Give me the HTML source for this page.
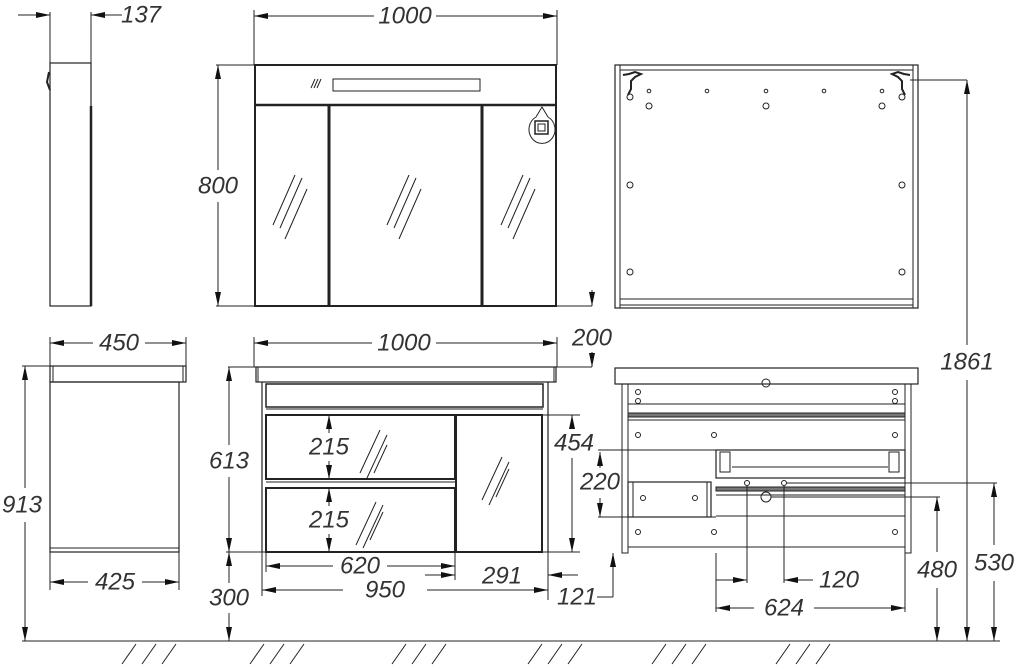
<!DOCTYPE html>
<html><head><meta charset="utf-8"><style>
html,body{margin:0;padding:0;background:#fff;}
svg{display:block}
text{font-family:"Liberation Sans",sans-serif;font-style:italic;font-size:24px;fill:#333;text-anchor:middle;dominant-baseline:central}
</style></head><body>
<svg width="1024" height="667" viewBox="0 0 1024 667" xmlns="http://www.w3.org/2000/svg">
<defs>
<marker id="a" viewBox="0 0 14 6" refX="14" refY="3" markerWidth="14" markerHeight="6" orient="auto-start-reverse" markerUnits="userSpaceOnUse"><path d="M0,0L14,3L0,6z" fill="#111"/></marker>
</defs>
<g stroke="#222" stroke-width="1" fill="none">
<line x1="22" y1="641" x2="1000" y2="641"/>
<g stroke-width="1">
<path d="M122,664L136,644M142,664L156,644M162,664L176,644M250,664L264,644M270,664L284,644M290,664L304,644M392,664L406,644M412,664L426,644M432,664L446,644M528,664L542,644M548,664L562,644M568,664L582,644M652,664L666,644M672,664L686,644M692,664L706,644M776,664L790,644M796,664L810,644M816,664L830,644"/>
</g>

<rect x="50" y="63" width="41" height="243" stroke-width="1.2"/>
<line x1="91" y1="106" x2="91" y2="306" stroke-width="2.5"/>
<path d="M49,72l-2,10 3,8" stroke-width="2"/>
<line x1="50" y1="12" x2="50" y2="63"/><line x1="91" y1="12" x2="91" y2="63"/>
<line x1="18" y1="15" x2="50" y2="15" marker-end="url(#a)"/>
<line x1="122" y1="15" x2="91" y2="15" marker-end="url(#a)"/>

<rect x="255" y="65" width="301" height="241" stroke-width="2"/>
<line x1="255" y1="105" x2="556" y2="105" stroke-width="2.5"/>
<rect x="333" y="79" width="147" height="12"/>
<path d="M311,88l4,-9M314,88l4,-9M317,88l4,-9"/>
<line x1="329" y1="106" x2="329" y2="306" stroke-width="3"/>
<line x1="482" y1="106" x2="482" y2="306" stroke-width="3"/>
<path d="M273,225l22,-50M280,228l22,-50M285,239l22,-50"/>
<path d="M387,225l22,-50M394,228l22,-50M399,239l22,-50"/>
<path d="M501,225l22,-50M508,228l22,-50M513,239l22,-50"/>
<path d="M542,107l-6,10a13,14 0 1,0 12,0z"/>
<rect x="535" y="121" width="13" height="13" stroke-width="1.5"/><rect x="538" y="124" width="7" height="7"/>
<line x1="254" y1="10" x2="254" y2="65"/><line x1="557" y1="10" x2="557" y2="65"/>
<line x1="254" y1="16" x2="374" y2="16" marker-start="url(#a)"/>
<line x1="436" y1="16" x2="557" y2="16" marker-end="url(#a)"/>
<line x1="216" y1="65" x2="255" y2="65"/>
<line x1="218" y1="65" x2="218" y2="170" marker-start="url(#a)"/>
<line x1="218" y1="202" x2="218" y2="306" marker-end="url(#a)"/>
<line x1="216" y1="306" x2="592" y2="306"/>

<rect x="615" y="65" width="303" height="243" stroke-width="1.2"/>
<line x1="620" y1="65" x2="620" y2="308"/><line x1="913" y1="65" x2="913" y2="308"/>
<line x1="620" y1="70" x2="913" y2="70"/>
<line x1="620" y1="299" x2="913" y2="299"/><line x1="620" y1="305" x2="913" y2="305"/>
<path d="M623,75l6,-1 6,-2 6,2-6,3-4,4 0,8-3,6" stroke-width="2"/>
<path d="M910,75l-6,-1-6,-2-6,2 6,3 4,4 0,8 3,6" stroke-width="2"/>
<g stroke-width="1">
<circle cx="649" cy="91" r="1.8"/><circle cx="707" cy="91" r="1.8"/><circle cx="766" cy="91" r="1.8"/><circle cx="824" cy="91" r="1.8"/><circle cx="882" cy="91" r="1.8"/>
<circle cx="630" cy="97" r="3"/><circle cx="649" cy="106" r="3"/><circle cx="766" cy="106" r="3"/><circle cx="882" cy="106" r="3"/><circle cx="902" cy="97" r="3"/>
<circle cx="630" cy="185" r="3"/><circle cx="902" cy="185" r="3"/><circle cx="630" cy="272" r="3"/><circle cx="902" cy="272" r="3"/>
</g>
<line x1="910" y1="80" x2="967" y2="80"/>
<line x1="967" y1="80" x2="967" y2="345" marker-start="url(#a)"/>
<line x1="967" y1="380" x2="967" y2="641" marker-end="url(#a)"/>

<rect x="50" y="366" width="136" height="16" stroke-width="1.2"/>
<line x1="53" y1="366" x2="53" y2="382"/><line x1="183" y1="366" x2="183" y2="382"/>
<rect x="50" y="382" width="129" height="170" stroke-width="1.2"/>
<line x1="50" y1="548" x2="179" y2="548"/>
<line x1="50" y1="337" x2="50" y2="366"/><line x1="186" y1="337" x2="186" y2="366"/>
<line x1="50" y1="343" x2="93" y2="343" marker-start="url(#a)"/>
<line x1="145" y1="343" x2="186" y2="343" marker-end="url(#a)"/>
<line x1="50" y1="552" x2="50" y2="590"/><line x1="179" y1="552" x2="179" y2="590"/>
<line x1="50" y1="582" x2="88" y2="582" marker-start="url(#a)"/>
<line x1="142" y1="582" x2="179" y2="582" marker-end="url(#a)"/>
<line x1="22" y1="366" x2="50" y2="366"/>
<line x1="25" y1="366" x2="25" y2="488" marker-start="url(#a)"/>
<line x1="25" y1="522" x2="25" y2="641" marker-end="url(#a)"/>

<rect x="256" y="367" width="300" height="15" stroke-width="1.2"/>
<line x1="258" y1="367" x2="258" y2="382"/><line x1="554" y1="367" x2="554" y2="382"/>
<line x1="262" y1="382" x2="262" y2="552" stroke-width="1.2"/>
<line x1="548" y1="382" x2="548" y2="552" stroke-width="1.2"/>
<rect x="266" y="384" width="277" height="23" stroke-width="1.5"/>
<line x1="266" y1="409" x2="543" y2="409"/>
<rect x="266" y="415" width="189" height="64" stroke-width="2"/>
<rect x="266" y="488" width="189" height="64" stroke-width="2"/>
<line x1="266" y1="482" x2="455" y2="482"/>
<rect x="456" y="415" width="86" height="137" stroke-width="2"/>
<line x1="262" y1="552" x2="548" y2="552"/>
<path d="M360,473l20,-43M367,478l20,-43M374,473l13,-28"/>
<path d="M356,545l20,-43M363,548l20,-43M370,540l13,-28"/>
<path d="M482,500l20,-43M489,505l20,-43M496,497l13,-28"/>
<line x1="254" y1="337" x2="254" y2="367"/><line x1="557" y1="337" x2="557" y2="367"/>
<line x1="254" y1="343" x2="372" y2="343" marker-start="url(#a)"/>
<line x1="436" y1="343" x2="557" y2="343" marker-end="url(#a)"/>
<line x1="228" y1="367" x2="592" y2="367"/>
<line x1="229" y1="367" x2="229" y2="445" marker-start="url(#a)"/>
<line x1="229" y1="477" x2="229" y2="552" marker-end="url(#a)"/>
<line x1="226" y1="552" x2="262" y2="552"/>
<line x1="229" y1="552" x2="229" y2="583" marker-start="url(#a)"/>
<line x1="229" y1="613" x2="229" y2="641" marker-end="url(#a)"/>
<line x1="592" y1="290" x2="592" y2="306" marker-end="url(#a)"/>
<line x1="592" y1="352" x2="592" y2="367" marker-end="url(#a)"/>
<line x1="329" y1="415" x2="329" y2="433" marker-start="url(#a)"/>
<line x1="329" y1="461" x2="329" y2="479" marker-end="url(#a)"/>
<line x1="329" y1="488" x2="329" y2="506" marker-start="url(#a)"/>
<line x1="329" y1="534" x2="329" y2="552" marker-end="url(#a)"/>
<line x1="266" y1="552" x2="266" y2="572"/><line x1="455" y1="552" x2="455" y2="580"/>
<line x1="266" y1="566" x2="333" y2="566" marker-start="url(#a)"/>
<line x1="387" y1="566" x2="455" y2="566" marker-end="url(#a)"/>
<line x1="425" y1="575" x2="455" y2="575" marker-end="url(#a)"/>
<line x1="578" y1="575" x2="548" y2="575" marker-end="url(#a)"/>
<line x1="262" y1="552" x2="262" y2="596"/><line x1="548" y1="552" x2="548" y2="600"/>
<line x1="262" y1="590" x2="343" y2="590" marker-start="url(#a)"/>
<line x1="427" y1="590" x2="548" y2="590" marker-end="url(#a)"/>
<line x1="597" y1="597" x2="613" y2="597"/>
<line x1="613" y1="597" x2="613" y2="553" marker-end="url(#a)"/>
<line x1="542" y1="415" x2="580" y2="415"/><line x1="548" y1="552" x2="580" y2="552"/>
<line x1="572" y1="415" x2="572" y2="428" marker-start="url(#a)"/>
<line x1="572" y1="458" x2="572" y2="552" marker-end="url(#a)"/>

<rect x="615" y="368" width="303" height="16" stroke-width="1.2"/>
<rect x="622" y="384" width="6" height="169"/><rect x="905" y="384" width="6" height="169"/>
<line x1="628" y1="404" x2="905" y2="404"/>
<rect x="628" y="413" width="277" height="4" fill="#777"/>
<line x1="628" y1="420" x2="905" y2="420"/>
<rect x="716" y="450" width="189" height="28" stroke-width="1.2"/>
<rect x="720" y="452" width="10" height="20"/><rect x="889" y="452" width="10" height="20"/>
<line x1="732" y1="467" x2="888" y2="467"/>
<rect x="716" y="487" width="189" height="4" fill="#777"/>
<line x1="716" y1="495" x2="905" y2="495"/>
<line x1="716" y1="516" x2="905" y2="516"/>
<rect x="628" y="482" width="83" height="35" stroke-width="1.2"/>
<line x1="633" y1="482" x2="633" y2="517"/><line x1="707" y1="482" x2="707" y2="517"/>
<line x1="628" y1="547" x2="905" y2="547"/>
<circle cx="766" cy="383" r="4"/>
<g stroke-width="1">
<circle cx="638" cy="392" r="2.5"/><circle cx="638" cy="401" r="2.5"/><circle cx="895" cy="392" r="2.5"/><circle cx="895" cy="401" r="2.5"/>
<circle cx="638" cy="435" r="2.5"/><circle cx="714" cy="435" r="2.5"/><circle cx="895" cy="435" r="2.5"/>
<circle cx="643" cy="498" r="2.5"/><circle cx="695" cy="498" r="2.5"/>
<circle cx="638" cy="532" r="2.5"/><circle cx="714" cy="532" r="2.5"/><circle cx="895" cy="532" r="2.5"/>
<circle cx="747" cy="483" r="2.5"/><circle cx="784" cy="483" r="2.5"/><circle cx="766" cy="497" r="5"/>
</g>
<line x1="598" y1="450" x2="905" y2="450"/>
<line x1="598" y1="517" x2="716" y2="517"/>
<line x1="600" y1="468" x2="600" y2="452" marker-end="url(#a)"/>
<line x1="600" y1="498" x2="600" y2="517" marker-end="url(#a)"/>
<line x1="771" y1="497" x2="940" y2="497"/>
<line x1="937" y1="497" x2="937" y2="552" marker-start="url(#a)"/>
<line x1="937" y1="588" x2="937" y2="641" marker-end="url(#a)"/>
<line x1="787" y1="483" x2="997" y2="483"/>
<line x1="994" y1="483" x2="994" y2="545" marker-start="url(#a)"/>
<line x1="994" y1="581" x2="994" y2="641" marker-end="url(#a)"/>
<line x1="747" y1="486" x2="747" y2="583"/><line x1="784" y1="486" x2="784" y2="583"/>
<line x1="716" y1="580" x2="747" y2="580" marker-end="url(#a)"/>
<line x1="813" y1="580" x2="784" y2="580" marker-end="url(#a)"/>
<line x1="716" y1="553" x2="716" y2="612"/><line x1="905" y1="553" x2="905" y2="612"/>
<line x1="716" y1="608" x2="754" y2="608" marker-start="url(#a)"/>
<line x1="814" y1="608" x2="905" y2="608" marker-end="url(#a)"/>
</g>
<g>
<text x="141" y="15">137</text>
<text x="405" y="16">1000</text>
<text x="218" y="186">800</text>
<text x="967" y="362">1861</text>
<text x="119" y="343">450</text>
<text x="115" y="582">425</text>
<text x="22" y="505">913</text>
<text x="404" y="343">1000</text>
<text x="592" y="338">200</text>
<text x="229" y="461">613</text>
<text x="229" y="598">300</text>
<text x="329" y="447">215</text>
<text x="329" y="520">215</text>
<text x="360" y="566">620</text>
<text x="502" y="576">291</text>
<text x="385" y="590">950</text>
<text x="577" y="597">121</text>
<text x="574" y="443">454</text>
<text x="600" y="482">220</text>
<text x="937" y="570">480</text>
<text x="994" y="563">530</text>
<text x="839" y="580">120</text>
<text x="784" y="608">624</text>
</g>
</svg>
</body></html>
